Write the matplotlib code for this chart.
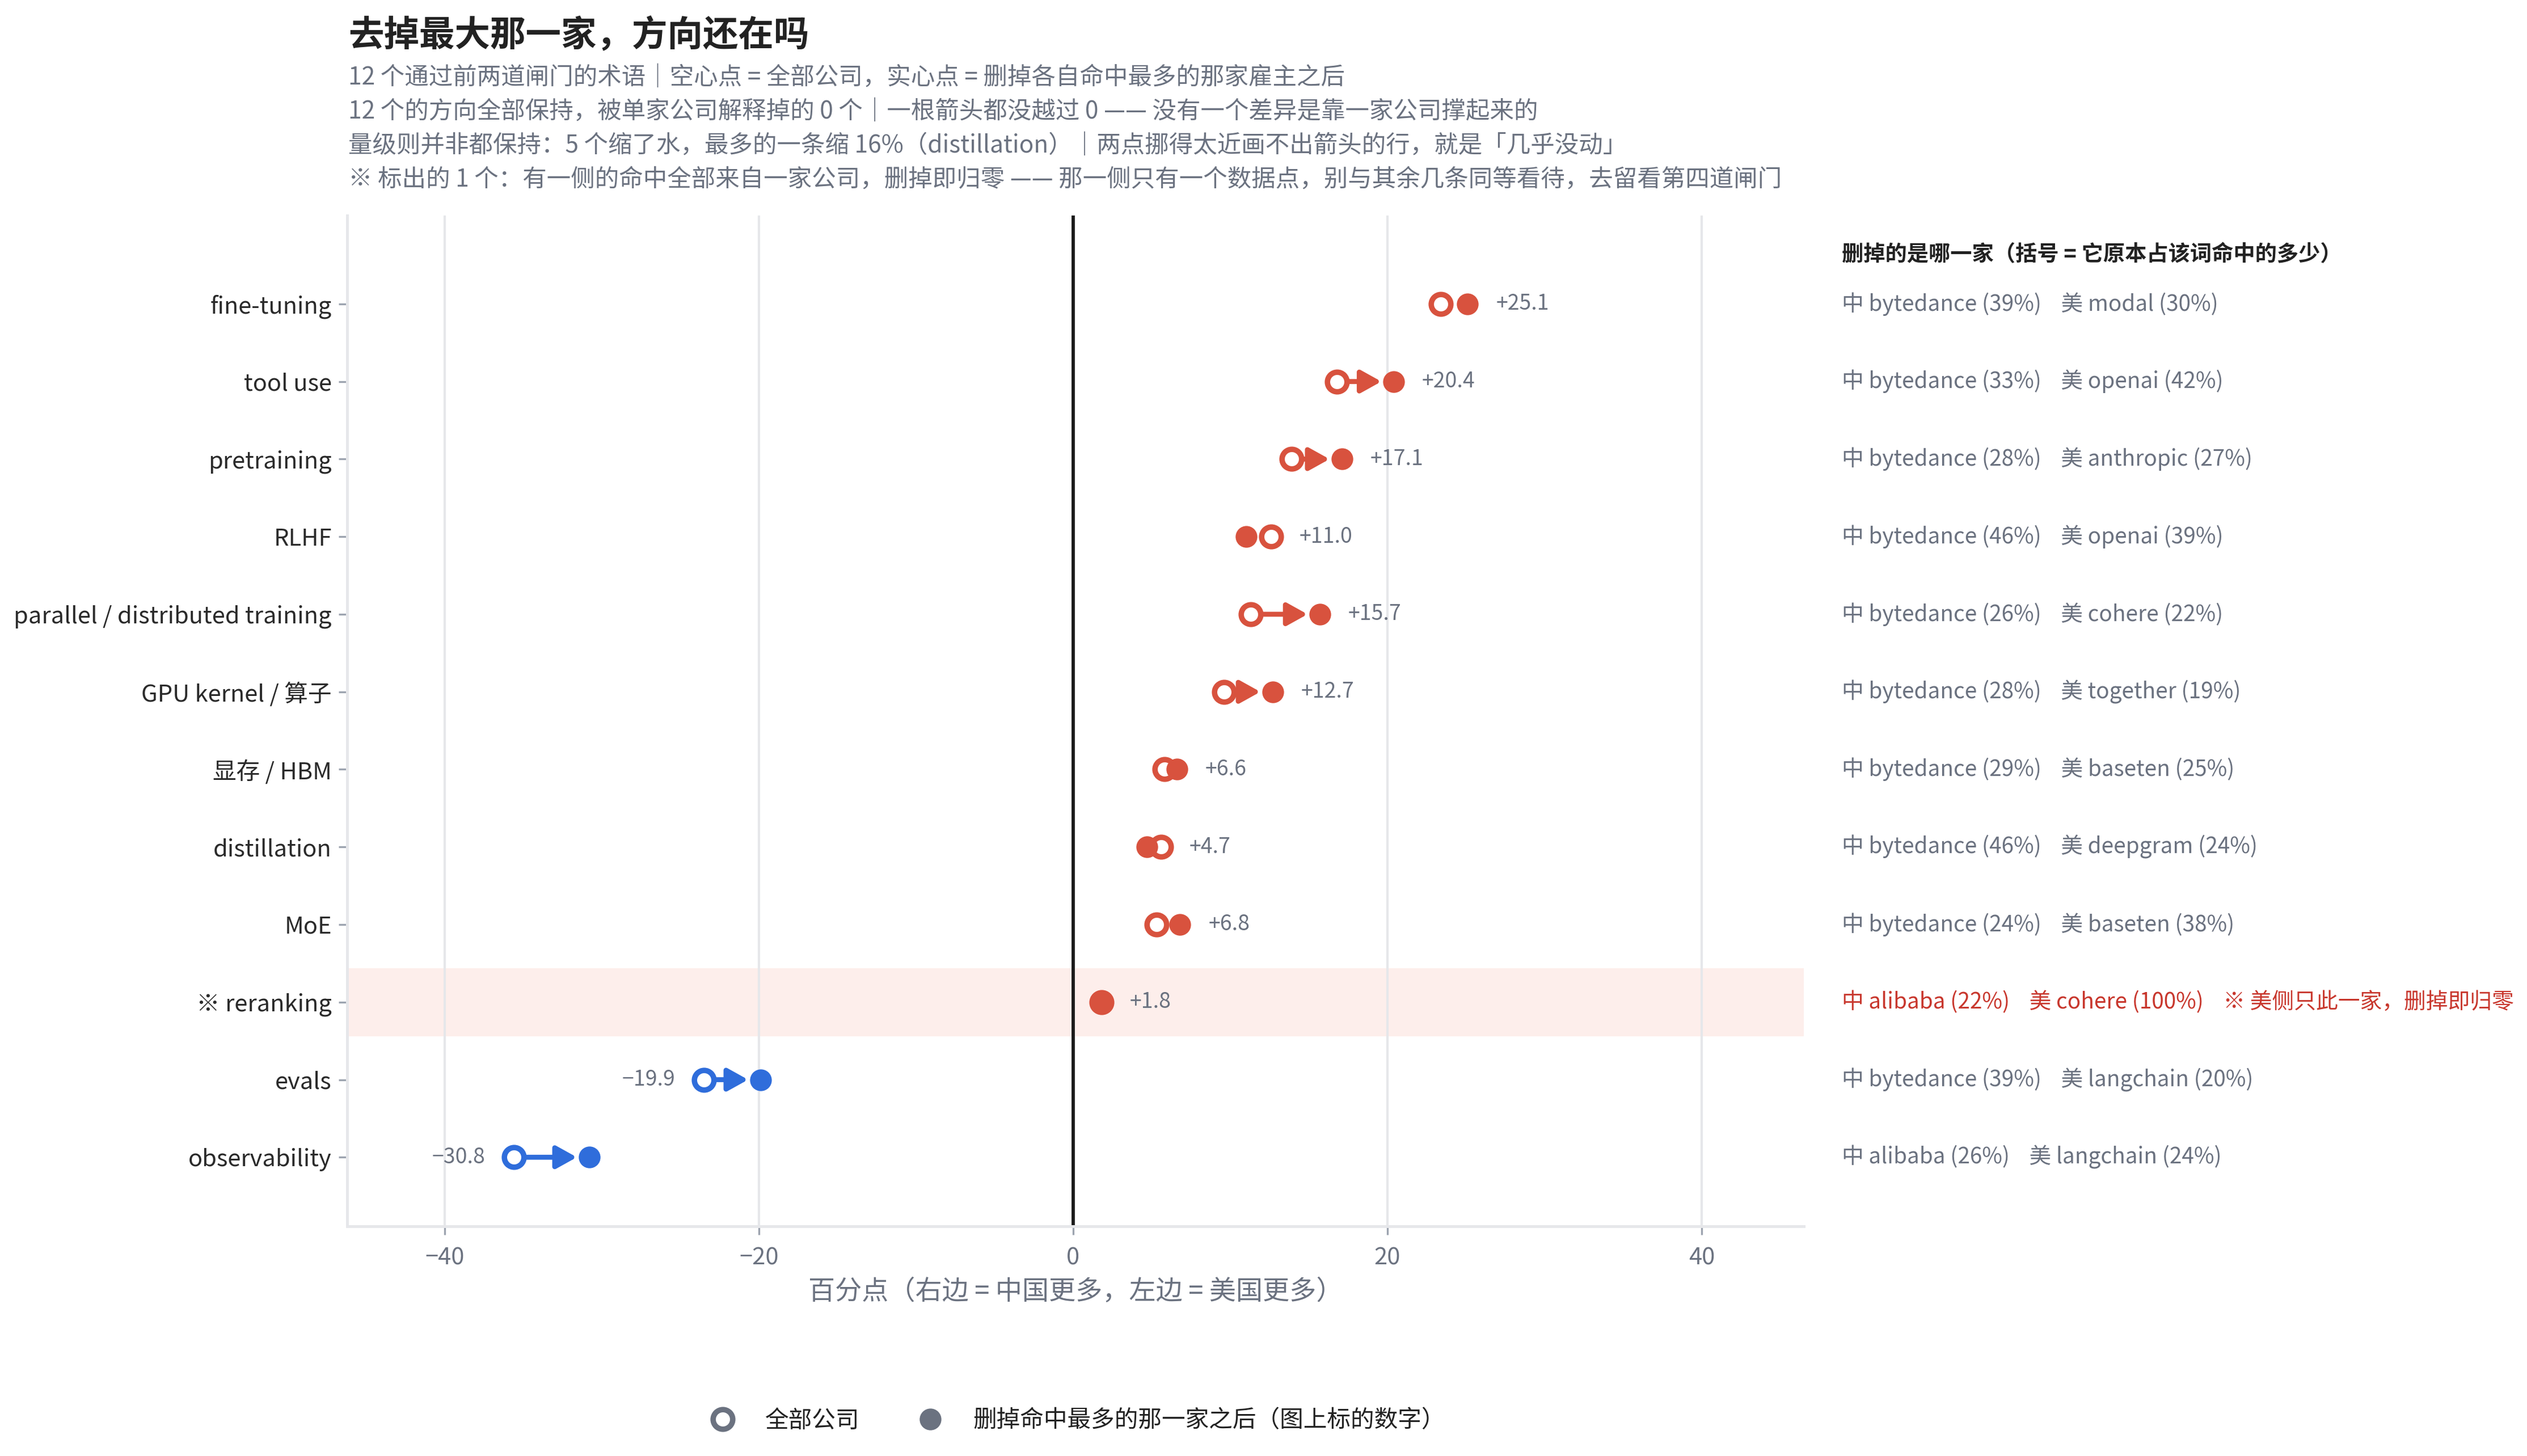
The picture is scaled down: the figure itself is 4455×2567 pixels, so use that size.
import matplotlib
matplotlib.use("Agg")
import matplotlib.pyplot as plt
from matplotlib.lines import Line2D
from matplotlib.transforms import blended_transform_factory

plt.rcParams['font.family'] = ['Noto Sans CJK SC', 'DejaVu Sans']
plt.rcParams['axes.unicode_minus'] = True

# ---------------- data ----------------
terms = ["fine-tuning", "tool use", "pretraining", "RLHF",
         "parallel / distributed training", "GPU kernel / 算子", "显存 / HBM",
         "distillation", "MoE", "※ reranking", "evals", "observability"]
all_companies = [23.4, 16.8, 13.9, 12.6, 11.3, 9.6, 5.8, 5.6, 5.3, 1.8, -23.5, -35.6]
drop_top = [25.1, 20.4, 17.1, 11.0, 15.7, 12.7, 6.6, 4.7, 6.8, 1.8, -19.9, -30.8]
cn_top = ["bytedance (39%)", "bytedance (33%)", "bytedance (28%)", "bytedance (46%)",
          "bytedance (26%)", "bytedance (28%)", "bytedance (29%)", "bytedance (46%)",
          "bytedance (24%)", "alibaba (22%)", "bytedance (39%)", "alibaba (26%)"]
us_top = ["modal (30%)", "openai (42%)", "anthropic (27%)", "openai (39%)",
          "cohere (22%)", "together (19%)", "baseten (25%)", "deepgram (24%)",
          "baseten (38%)", "cohere (100%)", "langchain (20%)", "langchain (24%)"]
flagged = [False] * 9 + [True] + [False] * 2
flag_note = "※ 美侧只此一家，删掉即归零"

title = "去掉最大那一家，方向还在吗"
subtitle = [
    "12 个通过前两道闸门的术语｜空心点 = 全部公司，实心点 = 删掉各自命中最多的那家雇主之后",
    "12 个的方向全部保持，被单家公司解释掉的 0 个｜一根箭头都没越过 0 —— 没有一个差异是靠一家公司撑起来的",
    "量级则并非都保持：5 个缩了水，最多的一条缩 16%（distillation）｜两点挪得太近画不出箭头的行，就是「几乎没动」",
    "※ 标出的 1 个：有一侧的命中全部来自一家公司，删掉即归零 —— 那一侧只有一个数据点，别与其余几条同等看待，去留看第四道闸门",
]
xlabel = "百分点（右边 = 中国更多，左边 = 美国更多）"
right_header = "删掉的是哪一家（括号 = 它原本占该词命中的多少）"
legend_labels = ["全部公司", "删掉命中最多的那一家之后（图上标的数字）"]
xticks = [-40, -20, 0, 20, 40]

# ---------------- style ----------------
RED = "#D8523E"
BLUE = "#2F6DDB"
GRAY = "#6b7280"
DARK = "#222222"
FLAGRED = "#C8372D"
GRID = "#e6e7ea"
arrow_min = 2.5

W, H, DPI = 4455, 2567, 300
fig = plt.figure(figsize=(W / DPI, H / DPI), dpi=DPI)
ax = fig.add_axes([612 / W, 1 - 2162 / H, (3180 - 612) / W, (2162 - 380) / H])

n = len(terms)
ys = list(range(n))

ax.set_xlim(-46.2, 46.5)
ax.set_ylim(n - 1 + 0.89, -1.14)

# highlight band for flagged rows
for i, f in enumerate(flagged):
    if f:
        ax.axhspan(i - 0.44, i + 0.44, color="#FDEEEB", zorder=0, lw=0)

ax.set_xticks(xticks)
ax.set_xticklabels([f"{t}".replace("-", "\u2212") for t in xticks])
ax.grid(axis="x", color=GRID, lw=1.0, zorder=0.5)
ax.set_axisbelow(True)
ax.axvline(0, color="#1a1a1a", lw=1.4, zorder=1.5)

for i in ys:
    h, f = all_companies[i], drop_top[i]
    c = RED if f > 0 else BLUE
    if abs(f - h) >= arrow_min:
        ax.annotate("", xy=(f, i), xytext=(h, i),
                    arrowprops=dict(arrowstyle="-|>,head_length=0.36,head_width=0.2",
                                    mutation_scale=20, lw=2.1, color=c,
                                    shrinkA=5.0, shrinkB=5.2),
                    zorder=2)
    ax.plot([h], [i], marker="o", ls="", ms=8.3, mfc="white", mec=c, mew=2.3, zorder=3)
    ax.plot([f], [i], marker="o", ls="", ms=9.2, mfc=c, mec=c, mew=0, zorder=4)
    lab = f"{f:+.1f}".replace("-", "\u2212")
    if f > 0:
        ax.annotate(lab, xy=(max(h, f), i), xytext=(12, 0), textcoords="offset points",
                    ha="left", va="center", fontsize=9, color=GRAY)
    else:
        ax.annotate(lab, xy=(min(h, f), i), xytext=(-12, 0), textcoords="offset points",
                    ha="right", va="center", fontsize=9, color=GRAY)

ax.set_yticks(ys)
ax.set_yticklabels(terms, fontsize=10, color="#2a2a2a")
ax.tick_params(axis="y", length=3.5, width=0.8, color="#9ca3af", pad=3)
ax.tick_params(axis="x", length=3.5, width=0.8, color="#9ca3af", pad=5,
               labelsize=10, labelcolor=GRAY)

for s in ["top", "right"]:
    ax.spines[s].set_visible(False)
for s in ["left", "bottom"]:
    ax.spines[s].set_color(GRID)
    ax.spines[s].set_linewidth(1.2)

ax.set_xlabel(xlabel, fontsize=11.3, color=GRAY, labelpad=3.5)

# right-hand annotation column
tr = blended_transform_factory(fig.transFigure, ax.transData)
xr = 3247 / W
ax.text(xr, -0.64, right_header, transform=tr, ha="left", va="center",
        fontsize=9.2, fontweight="bold", color=DARK, clip_on=False)
for i in ys:
    s = f"中 {cn_top[i]}    美 {us_top[i]}"
    if flagged[i]:
        s += "    " + flag_note
        col = FLAGRED
    else:
        col = GRAY
    ax.text(xr, i, s, transform=tr, ha="left", va="center", fontsize=9.3,
            color=col, clip_on=False)

# title & subtitle
x0 = 614 / W
fig.text(x0, 1 - 63 / H, title, ha="left", va="center", fontsize=15,
         fontweight="bold", color=DARK)
for k, line in enumerate(subtitle):
    fig.text(x0, 1 - (137 + 60 * k) / H, line, ha="left", va="center",
             fontsize=10.2, color=GRAY)

# legend
handles = [
    Line2D([], [], marker="o", ls="", ms=8.3, mfc="white", mec=GRAY, mew=2.3),
    Line2D([], [], marker="o", ls="", ms=9.2, mfc=GRAY, mec=GRAY, mew=0),
]
leg = fig.legend(handles, legend_labels, loc="center", bbox_to_anchor=(1890 / W, 1 - 2505 / H),
                 ncol=2, frameon=False, fontsize=10, handletextpad=0.8, columnspacing=2.0)
for t in leg.get_texts():
    t.set_color(DARK)

fig.savefig("out.png", dpi=DPI, facecolor="white")
